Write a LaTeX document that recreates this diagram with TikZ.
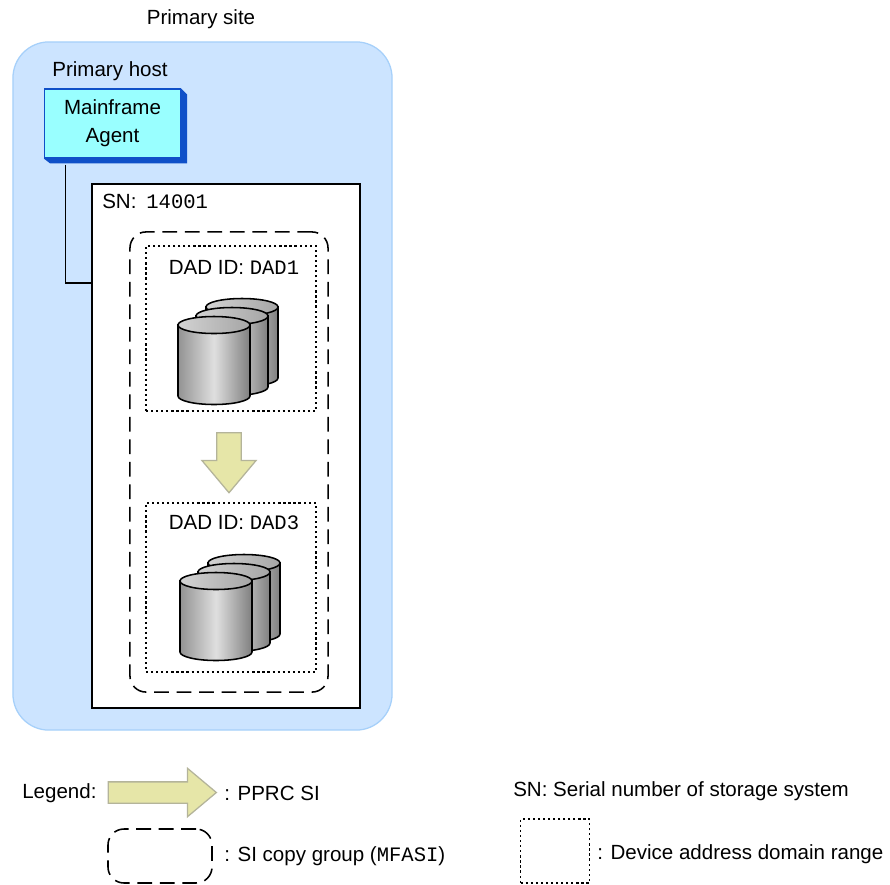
\documentclass[tikz,border=0pt]{standalone}
\usepackage{fontspec}
\setmainfont{Liberation Sans}
\setmonofont{Liberation Mono}
\usetikzlibrary{shapes.arrows}
\definecolor{sitefill}{HTML}{CCE4FF}
\definecolor{siteline}{HTML}{A6D0FA}
\definecolor{hostfill}{HTML}{99FFFF}
\definecolor{hostshade}{HTML}{0F50C8}
\definecolor{movefill}{HTML}{E6E6A8}
\definecolor{moveline}{HTML}{B4B49A}
\tikzset{label text/.style={font=\fontsize{14.6}{17}\selectfont, inner sep=0pt},
  box/.style={draw, line width=1.1pt, minimum width=#1, inner sep=0pt},
  copy group/.style={draw, line width=1.1pt, dash pattern=on 10.5pt off 5.5pt, rounded corners=.4cm, inner sep=0pt},
  address range/.style={draw, line width=1.1pt, dash pattern=on 1.6pt off 2pt, inner sep=0pt},
  move arrow/.style={single arrow, draw=moveline, line width=.9pt, fill=movefill,
    inner xsep=0pt, single arrow tip angle=80},
  drum/.pic={
    \shade[left color=gray!85, right color=gray, middle color=gray!25, draw=black, line width=1.1pt]
      (-36,0) -- (-36,71) arc [start angle=180, end angle=0, x radius=36, y radius=8.5] -- (36,0) -- cycle;
    \shade[left color=gray!35, right color=gray!70, draw=black, line width=1.1pt]
      (0,0) ellipse [x radius=36, y radius=8.5];
  },
  disk set/.pic={
    \path (28,-18) pic {drum};
    \path (18,-9) pic {drum};
    \path (0,0) pic {drum};
  }
}
\begin{document}
\begin{tikzpicture}[x=.025cm, y=-.025cm]
  \useasboundingbox (0,0) rectangle (890,884);
  \fill[white] (0,0) rectangle (890,884);

  \node[label text] (sitename) at (201,19) {Primary site};
  \node[draw=siteline, line width=.9pt, fill=sitefill, rounded corners=.9cm, minimum width=9.475cm, minimum height=17.2cm] (site) at (202.5,386) {};
  \node[label text] (hostname) at (110,71) {Primary host};

  \node[box=6.7cm, fill=white, minimum height=13.1cm] (storage) at (226,446) {};
  \coordinate (bend) at (65.5,283);

  \node[draw=hostshade, line width=.9pt, fill=hostfill, minimum width=3.4cm, minimum height=1.72cm, text width=3.4cm, align=center, inner sep=0pt,
    label text] (host) at (112.5,123.5) {Mainframe\\[3pt]Agent};
  \fill[hostshade] (host.north east) -- ++(6,6) -- ++(0,69) -- ++(-137,0) -- (host.south west) -- (host.south east) -- cycle;
  \draw[line width=1.1pt] (bend |- host.south) ++(0,6) -- (bend) -- (bend -| storage.west);

  \node[label text, anchor=west] (serial) at (102,201) {SN:\hspace{3pt} {\ttfamily 14001}};
  \node[copy group, minimum width=4.95cm, minimum height=11.5cm] (group) at (229,462) {};

  \node[address range, minimum width=4.25cm, minimum height=4.125cm] (first) at (231,328.5) {};
  \node[label text] (firstname) at (234,267) {DAD ID: {\ttfamily DAD1}};
  \path (214,325) pic {disk set};

  \node[move arrow, rotate=-90, minimum height=1.5cm, inner ysep=.2875cm, single arrow head extend=.375cm] (move) at (229,455.5) {};

  \node[address range, minimum width=4.25cm, minimum height=4.225cm] (second) at (231,587.5) {};
  \node[label text] (secondname) at (234,523) {DAD ID: {\ttfamily DAD3}};
  \path (216,581) pic {disk set};

  % legend
  \node[label text, anchor=west] (legend) at (22,793) {Legend:};
  \node[move arrow, minimum height=2.7cm, inner ysep=.25cm, single arrow head extend=.3375cm] (legendmove) at (156,792.5) {};
  \node[label text, anchor=west] (movetext) at (224,793) {: PPRC SI};
  \node[copy group, minimum width=2.6cm, minimum height=1.35cm] (legendgroup) at (160,856) {};
  \node[label text, anchor=west] (grouptext) at (224,856) {: SI copy group ({\ttfamily MFASI})};
  \node[label text, anchor=west] (serialtext) at (513,791) {SN: Serial number of storage system};
  \node[address range, minimum width=1.72cm, minimum height=1.6cm] (legendrange) at (555,851) {};
  \node[label text, anchor=west] (rangetext) at (597,854) {: Device address domain range};
\end{tikzpicture}
\end{document}
